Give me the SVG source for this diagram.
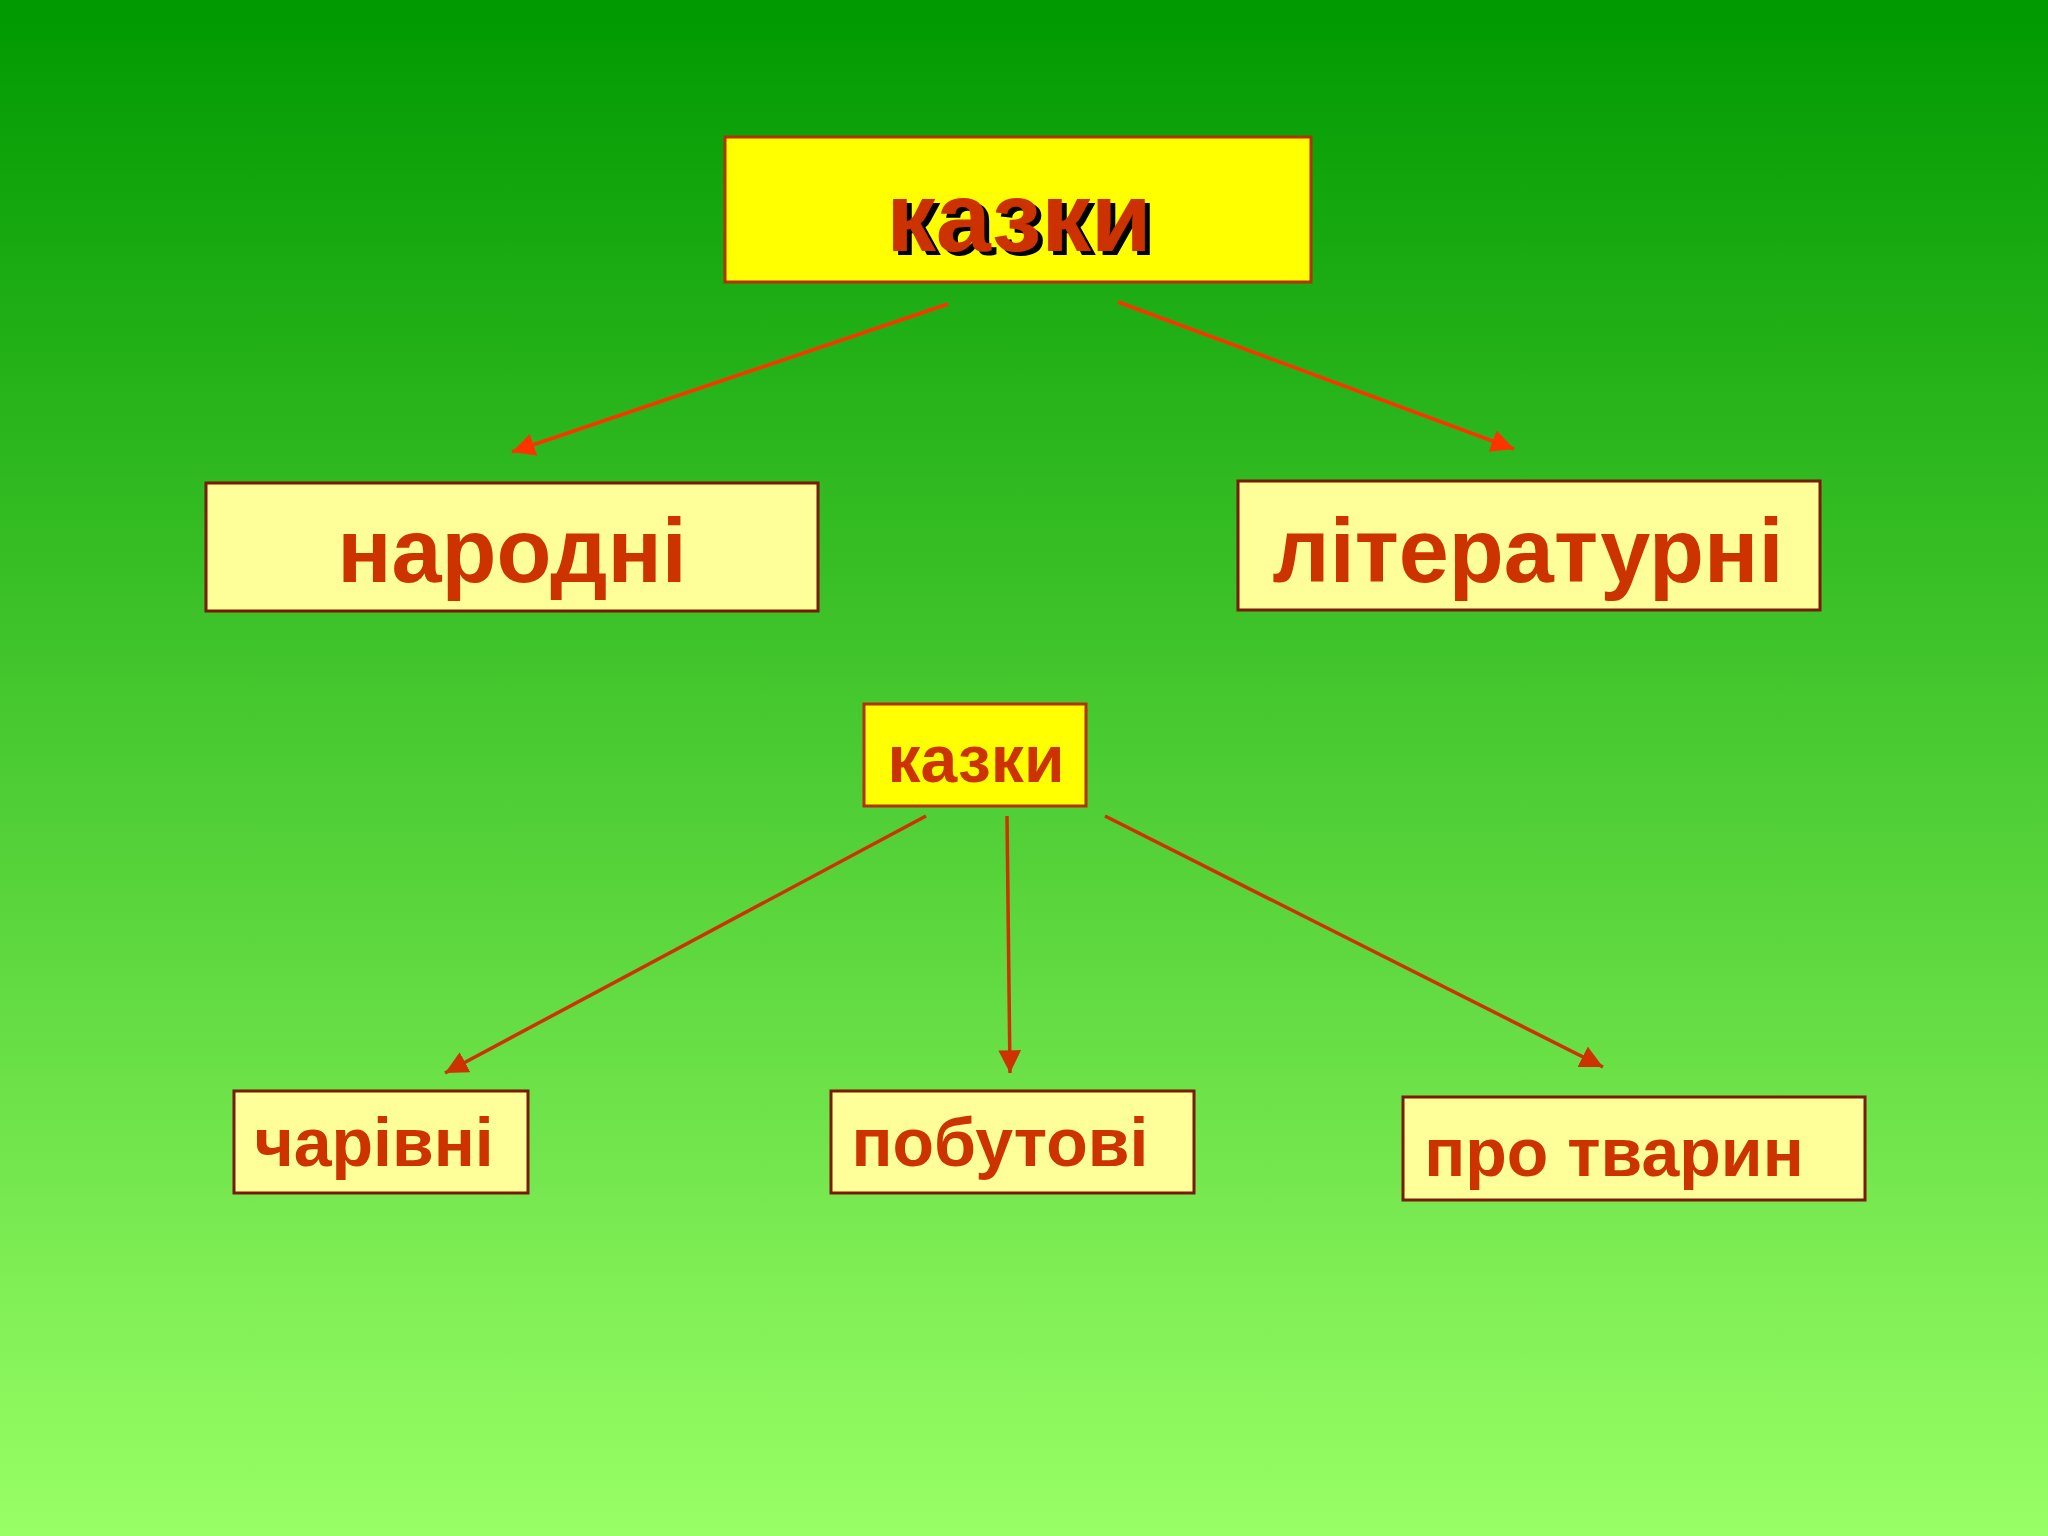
<svg xmlns="http://www.w3.org/2000/svg" width="2048" height="1536" viewBox="0 0 2048 1536">
<defs>
<linearGradient id="bg" x1="0" y1="0" x2="0" y2="1">
<stop offset="0" stop-color="#009900"/>
<stop offset="1" stop-color="#99ff66"/>
</linearGradient>
<filter id="sh" x="-10%" y="-20%" width="130%" height="150%">
<feDropShadow dx="5" dy="4" stdDeviation="0" flood-color="#000" flood-opacity="1"/>
</filter>
<marker id="ah1" viewBox="0 0 10 10" refX="10" refY="5" markerWidth="6.5" markerHeight="6.5" markerUnits="strokeWidth" orient="auto">
<path d="M0,0 L10,5 L0,10 z" fill="#ff3300"/>
</marker>
<marker id="ah2" viewBox="0 0 10 10" refX="10" refY="5" markerWidth="6.5" markerHeight="6.5" markerUnits="strokeWidth" orient="auto">
<path d="M0,0 L10,5 L0,10 z" fill="#cc3300"/>
</marker>
</defs>
<style>
.t{font-family:"Liberation Sans",Arial,sans-serif;font-weight:bold;fill:#cc3300;text-anchor:middle}
.y{fill:#ffff00;stroke:#b33300;stroke-width:3}
.p{fill:#ffff99;stroke:#7a1a00;stroke-width:3}
.a1{stroke:#ff3300;stroke-width:3.5;fill:none;marker-end:url(#ah1)}
.a2{stroke:#cc3300;stroke-width:3.5;fill:none;marker-end:url(#ah2)}
</style>
<rect width="2048" height="1536" fill="url(#bg)"/>
<g id="connectors">
<line class="a1" x1="948" y1="304" x2="512" y2="452"/>
<line class="a1" x1="1118" y1="302" x2="1514" y2="449"/>
<line class="a2" x1="926" y1="816" x2="445" y2="1073"/>
<line class="a2" x1="1007" y1="816" x2="1010" y2="1073"/>
<line class="a2" x1="1105" y1="816" x2="1603" y2="1067"/>
</g>
<g id="n-kazky-top">
<rect class="y" x="725" y="137" width="586" height="145"/>
<text class="t" x="1019" y="251" font-size="99" filter="url(#sh)">казки</text>
</g>
<g id="n-narodni">
<rect class="p" x="206" y="483" width="612" height="128"/>
<text class="t" x="512" y="582" font-size="90">народні</text>
</g>
<g id="n-literaturni">
<rect class="p" x="1238" y="481" width="582" height="129"/>
<text class="t" x="1528" y="582" font-size="90">літературні</text>
</g>
<g id="n-kazky-small">
<rect class="y" x="864" y="704" width="222" height="102"/>
<text class="t" x="976" y="782" font-size="66">казки</text>
</g>
<g id="n-charivni">
<rect class="p" x="234" y="1091" width="294" height="102"/>
<text class="t" x="374" y="1166" font-size="68">чарівні</text>
</g>
<g id="n-pobutovi">
<rect class="p" x="831" y="1091" width="363" height="102"/>
<text class="t" x="1000" y="1166" font-size="68">побутові</text>
</g>
<g id="n-pro-tvaryn">
<rect class="p" x="1403" y="1097" width="462" height="103"/>
<text class="t" x="1614" y="1176" font-size="68">про тварин</text>
</g>
</svg>
